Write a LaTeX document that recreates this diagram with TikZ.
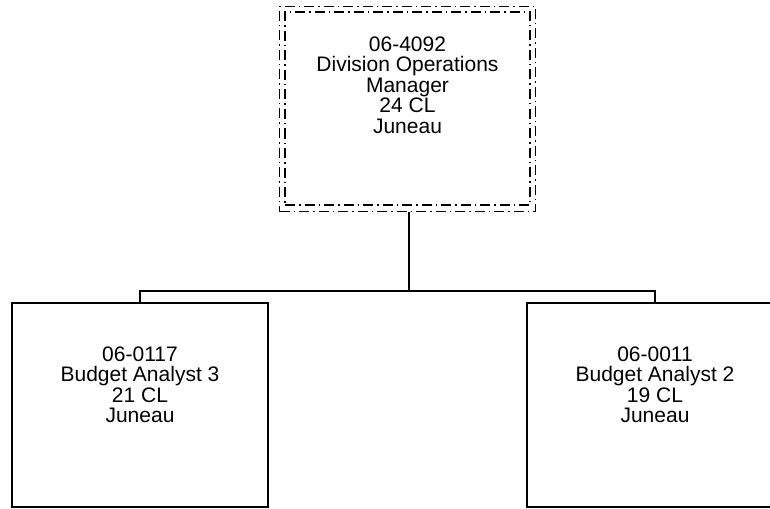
\documentclass[tikz,border=0pt]{standalone}
\usepackage{fontspec}
\setmainfont{Liberation Sans}
\tikzset{
  posbox/.style={draw, line width=1.3pt, minimum width=256pt, minimum height=204pt, inner sep=0pt},
  mgrbox/.style={draw, line width=1.4pt, inner sep=0pt, dash pattern=on 10pt off 4pt on 1.5pt off 4pt},
  postext/.style={align=center, font=\fontsize{21}{20.5}\selectfont},
  link/.style={line width=1.2pt}
}
\begin{document}
\begin{tikzpicture}[x=1pt, y=-1pt]
    \clip (0,0) rectangle (770,508);

    % Draw the manager box (double dash-dot frame)
    \node[mgrbox, minimum width=256pt, minimum height=205pt] (mgr) at (407.5,109) {};
    \node[mgrbox, minimum width=245pt, minimum height=193pt] (mgrin) at (407.5,108.5) {};
    \node[postext] (mgrtext) at ([yshift=24pt]mgr.center) {06-4092\\Division Operations\\Manager\\24 CL\\Juneau};

    % Draw the two analyst boxes
    \node[posbox] (ba3) at (140,405) {};
    \node[postext] (ba3text) at ([yshift=20pt]ba3.center) {06-0117\\Budget Analyst 3\\21 CL\\Juneau};

    \node[posbox] (ba2) at (655,405) {};
    \node[postext] (ba2text) at ([yshift=20pt]ba2.center) {06-0011\\Budget Analyst 2\\19 CL\\Juneau};

    % Draw the connectors
    \coordinate (bus) at (409,291);
    \draw[link] (mgr.south -| bus) -- (bus);
    \draw[link] (ba3.north) |- (bus) -| (ba2.north);
\end{tikzpicture}
\end{document}
